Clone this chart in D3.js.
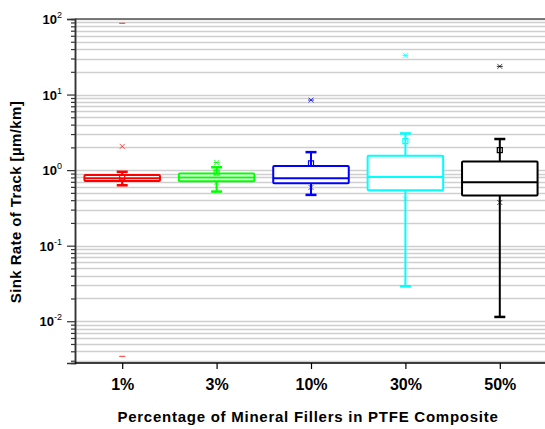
<!DOCTYPE html>
<html>
<head>
<meta charset="utf-8">
<script src="https://cdn.jsdelivr.net/npm/d3@7"></script>
<style>
  body { margin: 0; background: #fff; }
  text { font-family: "Liberation Sans", Arial, sans-serif; font-weight: bold; fill: #000; }
</style>
</head>
<body>
<div id="chart"></div>
<script>
const width = 545;
const height = 429;

// box chart data (sink rate, µm/km)
const categories = ["1%", "3%", "10%", "30%", "50%"];
const q1 = [0.715, 0.71, 0.67, 0.54, 0.46];
const median = [0.78, 0.80, 0.78, 0.81, 0.69];
const q3 = [0.86, 0.90, 1.13, 1.55, 1.30];
const whiskerLow = [0.63, 0.52, 0.47, 0.029, 0.0114];
const whiskerHigh = [0.95, 1.09, 1.73, 3.06, 2.58];
const meanValues = [0.80, 0.93, 1.23, 2.42, 1.84];
const p1 = [0.68, 0.69, 0.59, 0.417, 0.373];
const p99 = [2.06, 1.26, 8.45, 33.0, 23.6];
const minValues = [0.00343, 0.52, 0.47, 0.029, 0.0114];
const maxValues = [87.7, 1.26, 8.45, 33.0, 23.6];
const colors = ["#ff0000", "#00ff00", "#0000ff", "#00ffff", "#000000"];

const margin = { top: 19, right: -2, bottom: 66, left: 75 };
const plotRight = width - margin.right;
const plotBottom = height - margin.bottom;

const svg = d3
  .select("#chart")
  .append("svg")
  .attr("width", width)
  .attr("height", height);

const x = d3
  .scalePoint()
  .domain(categories)
  .range([margin.left, plotRight])
  .padding(0.5);

const y = d3
  .scaleLog()
  .domain([0.0028, 100])
  .range([plotBottom, margin.top]);

// major + minor tick values
const majorTicks = [0.01, 0.1, 1, 10, 100];
const minorTicks = [];
[0.001, 0.01, 0.1, 1, 10].forEach((d) => {
  for (let k = 2; k <= 9; k++) {
    const v = k * d;
    if (v >= 0.0028 && v <= 100) minorTicks.push(v);
  }
});

// grid lines
svg
  .append("g")
  .selectAll("line")
  .data(majorTicks.concat(minorTicks))
  .join("line")
  .attr("x1", margin.left)
  .attr("x2", plotRight)
  .attr("y1", (d) => Math.round(y(d)) + 0.5)
  .attr("y2", (d) => Math.round(y(d)) + 0.5)
  .attr("stroke", "#cfcfcf")
  .attr("stroke-width", 1.5);

// top frame line
svg
  .append("line")
  .attr("x1", margin.left)
  .attr("x2", plotRight)
  .attr("y1", margin.top)
  .attr("y2", margin.top)
  .attr("stroke", "#555")
  .attr("stroke-width", 1.5);

// y axis: major ticks, minor ticks
const yMajor = svg
  .append("g")
  .attr("transform", `translate(${margin.left},0)`)
  .call(d3.axisLeft(y).tickValues(majorTicks).tickSize(8).tickFormat(""));
const yMinor = svg
  .append("g")
  .attr("transform", `translate(${margin.left},0)`)
  .call(d3.axisLeft(y).tickValues(minorTicks).tickSize(4).tickFormat(""));
[yMajor, yMinor].forEach((g) => {
  g.select(".domain").attr("stroke", "#333").attr("stroke-width", 1.5);
  g.selectAll(".tick line").attr("stroke", "#333").attr("stroke-width", 1.2);
});

// y tick labels as 10^n
const yLabels = svg
  .append("g")
  .selectAll("text")
  .data(majorTicks)
  .join("text")
  .attr("x", margin.left - 13)
  .attr("y", (d) => y(d) + 5)
  .attr("text-anchor", "end")
  .style("font-size", "13px");
yLabels.append("tspan").text("10");
yLabels
  .append("tspan")
  .attr("dy", -6)
  .style("font-size", "9px")
  .style("font-weight", "normal")
  .text((d) => Math.round(Math.log10(d)));

// x axis
const xAxis = svg
  .append("g")
  .attr("transform", `translate(0,${plotBottom})`)
  .call(d3.axisBottom(x).tickSize(6).tickPadding(10));
xAxis
  .select(".domain")
  .attr("stroke", "#000")
  .attr("stroke-width", 1.5)
  .attr("d", `M${margin.left},0H${plotRight}`);
xAxis.selectAll(".tick line").attr("stroke", "#000").attr("stroke-width", 1.2);
xAxis
  .selectAll(".tick text")
  .style("font-size", "16px")
  .style("font-family", '"Liberation Sans", Arial, sans-serif')
  .style("font-weight", "bold")
  .attr("fill", "#000");

// axis titles
svg
  .append("text")
  .attr("x", 308)
  .attr("y", 422)
  .attr("text-anchor", "middle")
  .style("font-size", "15px")
  .style("letter-spacing", "0.75px")
  .text("Percentage of Mineral Fillers in PTFE Composite");

svg
  .append("text")
  .attr("transform", "translate(21,202) rotate(-90)")
  .attr("text-anchor", "middle")
  .style("font-size", "15px")
  .style("letter-spacing", "0.4px")
  .text("Sink Rate of Track [µm/km]");

// boxes
const boxW = x.step() * 0.8;
const capW = 11;
const rows = categories.map((c, i) => ({
  c,
  color: colors[i],
  q1: q1[i],
  med: median[i],
  q3: q3[i],
  lo: whiskerLow[i],
  hi: whiskerHigh[i],
  mean: meanValues[i],
  p1: p1[i],
  p99: p99[i],
  min: minValues[i],
  max: maxValues[i],
}));

const box = svg
  .append("g")
  .selectAll("g")
  .data(rows)
  .join("g")
  .attr("transform", (d) => `translate(${x(d.c)},0)`)
  .attr("stroke", (d) => d.color)
  .attr("fill", "none")
  .attr("stroke-width", 2);

// whiskers
box
  .append("line")
  .attr("x1", 0)
  .attr("x2", 0)
  .attr("y1", (d) => y(d.hi))
  .attr("y2", (d) => y(d.q3));
box
  .append("line")
  .attr("x1", 0)
  .attr("x2", 0)
  .attr("y1", (d) => y(d.q1))
  .attr("y2", (d) => y(d.lo));
box
  .append("line")
  .attr("x1", -capW / 2)
  .attr("x2", capW / 2)
  .attr("y1", (d) => y(d.hi))
  .attr("y2", (d) => y(d.hi))
  .attr("stroke-width", 2.5);
box
  .append("line")
  .attr("x1", -capW / 2)
  .attr("x2", capW / 2)
  .attr("y1", (d) => y(d.lo))
  .attr("y2", (d) => y(d.lo))
  .attr("stroke-width", 2.5);

// box body + median
box
  .append("rect")
  .attr("x", -boxW / 2)
  .attr("width", boxW)
  .attr("y", (d) => y(d.q3))
  .attr("height", (d) => y(d.q1) - y(d.q3))
  .attr("fill", "#fff")
  .attr("stroke-linejoin", "round")
  .attr("rx", 1);
box
  .append("line")
  .attr("x1", -boxW / 2)
  .attr("x2", boxW / 2)
  .attr("y1", (d) => y(d.med))
  .attr("y2", (d) => y(d.med));

// mean square
box
  .append("rect")
  .attr("x", -2.5)
  .attr("width", 5)
  .attr("y", (d) => y(d.mean) - 2.5)
  .attr("height", 5)
  .attr("stroke-width", 1.2);

// 1% / 99% crosses
const cross = (g, key) =>
  g
    .append("path")
    .attr("d", (d) => {
      const cy = y(d[key]);
      return `M-2.5,${cy - 2.5}L2.5,${cy + 2.5}M-2.5,${cy + 2.5}L2.5,${cy - 2.5}`;
    })
    .attr("stroke-width", 1)
    .attr("stroke-opacity", 0.7);
cross(box, "p1");
cross(box, "p99");

// min / max dashes
["min", "max"].forEach((key) =>
  box
    .append("line")
    .attr("x1", -3)
    .attr("x2", 3)
    .attr("y1", (d) => y(d[key]))
    .attr("y2", (d) => y(d[key]))
    .attr("stroke-width", 1)
    .attr("stroke-opacity", 0.8)
);
</script>
</body>
</html>
